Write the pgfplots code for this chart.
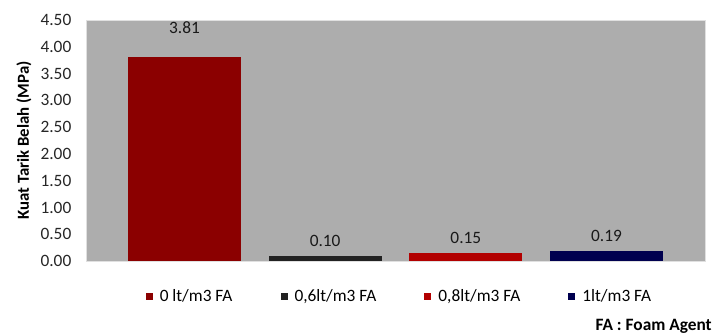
\documentclass[border=0pt]{standalone}
\usepackage{fontspec}
\setmainfont{Carlito}
\usepackage{pgfplots}
\pgfplotsset{compat=1.18}
\definecolor{bgg}{HTML}{ADADAD}
\definecolor{cA}{HTML}{8B0000}
\definecolor{cB}{HTML}{222222}
\definecolor{cC}{HTML}{B20000}
\definecolor{cD}{HTML}{00004F}
\begin{document}
\begin{tikzpicture}
\begin{axis}[
  scale only axis,
  width=464.25pt, height=180.75pt,
  xmin=-0.7, xmax=3.7,
  ymin=0, ymax=4.5,
  ytick={0,0.5,...,4.5},
  xtick=\empty,
  ybar, bar width=0.803, bar shift=0pt,
  axis background/.style={fill=bgg},
  axis line style={draw=black!12},
  major tick length=0pt,
  /pgf/number format/assume math mode=true,
  yticklabel style={font=\fontsize{13}{15}\selectfont, text=black!85, xshift=-7.5pt,
     /pgf/number format/fixed, /pgf/number format/fixed zerofill, /pgf/number format/precision=2},
  ylabel={Kuat Tarik Belah (MPa)},
  ylabel style={font=\bfseries\fontsize{12.6}{15}\selectfont},
  nodes near coords,
  every node near coord/.append style={font=\fontsize{13}{15}\selectfont, text=black!90, anchor=south,
     /pgf/number format/fixed, /pgf/number format/fixed zerofill, /pgf/number format/precision=2},
  clip=false,
  legend columns=4,
  legend style={draw=none, fill=none, at={(0.507,-0.149)}, anchor=center,
     font=\fontsize{13}{15}\selectfont,
     /tikz/every even column/.append style={column sep=34pt}},
  legend image code/.code={\path[#1,draw=none] (0pt,-2.6pt) rectangle (5.25pt,2.6pt); \path (8.5pt,0pt);},
]
\addplot[fill=cA, draw=none, every node near coord/.append style={yshift=14pt}] coordinates {(0,3.81)};
\addplot[fill=cB, draw=none, every node near coord/.append style={yshift=3.2pt}] coordinates {(1,0.10)};
\addplot[fill=cC, draw=none, every node near coord/.append style={yshift=3.2pt}] coordinates {(2,0.15)};
\addplot[fill=cD, draw=none, every node near coord/.append style={yshift=3.2pt}] coordinates {(3,0.19)};
\legend{0 lt/m3 FA, {0,6lt/m3 FA}, {0,8lt/m3 FA}, 1lt/m3 FA}
\node[anchor=base east, font=\bfseries\fontsize{13}{15}\selectfont, inner sep=0pt] at ([xshift=5.25pt, yshift=-51.75pt]rel axis cs:1,0) {FA : Foam Agent};
\end{axis}
\path ([xshift=-64.5pt,yshift=-55.5pt]current axis.south west) rectangle ([xshift=6pt,yshift=15pt]current axis.north east);
\end{tikzpicture}
\end{document}
